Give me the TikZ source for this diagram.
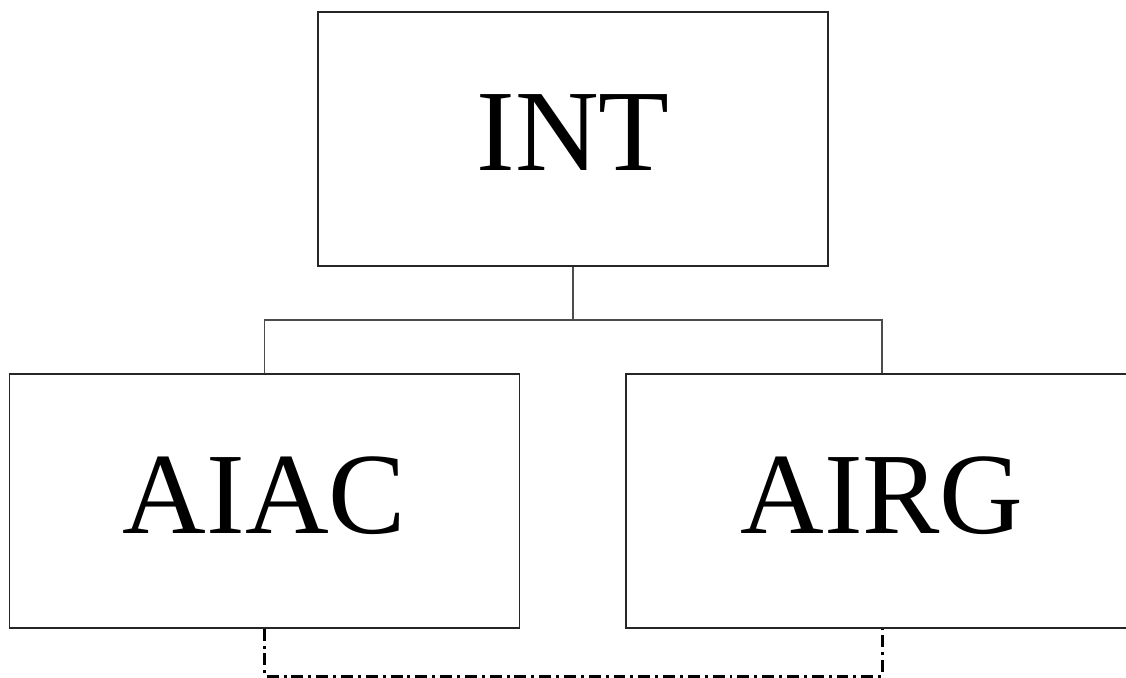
\documentclass[tikz,border=0pt]{standalone}
\usepackage{fontspec}
\setmainfont{Liberation Serif}

\begin{document}
\begin{tikzpicture}[x=0.02cm, y=-0.02cm,
		unit/.style={draw=black!85, line width=0.8pt, minimum width=10.2cm, minimum height=5.08cm, inner sep=0pt, text depth=7pt, font=\fontsize{66}{66}\selectfont},
		link/.style={draw=black!70, line width=0.8pt},
		pairlink/.style={line width=1.7pt, dash pattern=on 6.8pt off 2.8pt on 1.7pt off 2.8pt}]
		\useasboundingbox (0,0) rectangle (1126,677);
		% top unit
		\node[unit] (int) at (573,139) {INT};
		% lower units
		\node[unit] (aiac) at (264.5,501) {AIAC};
		\node[unit, minimum width=10.24cm] (airg) at (882,501) {AIRG};
		% tree links
		\coordinate (fork) at (573,320);
		\draw[link] (int.south) -- (fork);
		\draw[link] (aiac.north) |- (fork) -| (airg.north);
		% dash-dot link below
		\coordinate (bl) at (264.5,676);
		\coordinate (br) at (882,676);
		\draw[pairlink] (aiac.south) -- (bl) -- (br) -- (airg.south);
	\end{tikzpicture}
\end{document}
